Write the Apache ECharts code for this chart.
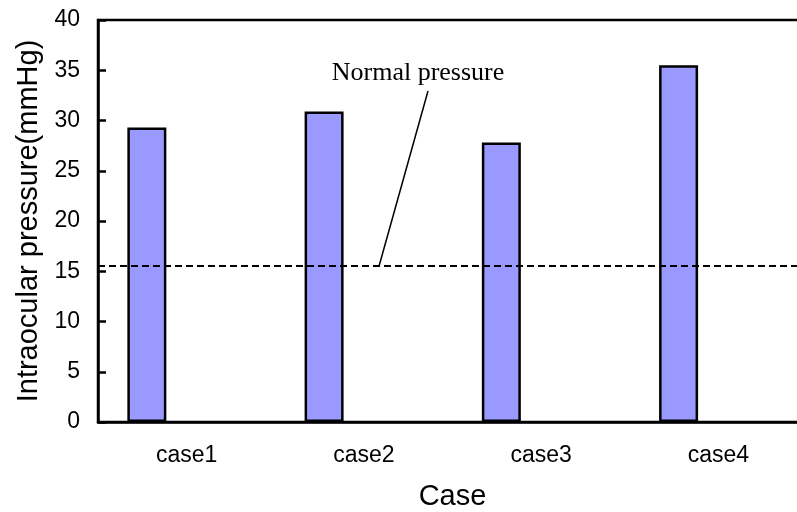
<!DOCTYPE html>
<html>
<head>
<meta charset="utf-8">
<script src="https://cdn.jsdelivr.net/npm/echarts@6/dist/echarts.min.js"></script>
<style>
  html, body { margin: 0; padding: 0; background: #ffffff; }
  #chart { width: 797px; height: 512px; }
</style>
</head>
<body>
<div id="chart"></div>
<script>
// Intraocular pressure per case, with the normal-pressure reference level
const categories = ['case1', 'case2', 'case3', 'case4'];
const pressures = [29.3, 30.9, 27.8, 35.5];
const spareSeriesA = [null, null, null, null];
const spareSeriesB = [null, null, null, null];
const normalPressure = 15.5;
const annotationText = 'Normal pressure';

const sans = '"Liberation Sans", Arial, sans-serif';
const serif = '"Liberation Serif", "Times New Roman", serif';

const chart = echarts.init(document.getElementById('chart'), null, { renderer: 'canvas' });

const barStyle = { color: '#9999ff', borderColor: '#000000', borderWidth: 2.5 };

chart.setOption({
  animation: false,
  backgroundColor: '#ffffff',
  grid: {
    left: 98, top: 20, width: 709, height: 402,
    containLabel: false,
    outerBoundsMode: 'none',
    show: true, borderColor: '#000000', borderWidth: 2.5, backgroundColor: 'transparent'
  },
  xAxis: {
    type: 'category',
    data: categories,
    axisLine: { lineStyle: { color: '#000000', width: 2.5 } },
    axisTick: { inside: true, length: 8, lineStyle: { color: '#000000', width: 2.5 } },
    axisLabel: { color: '#000000', fontFamily: sans, fontSize: 23, margin: 22 },
    name: 'Case',
    nameLocation: 'middle',
    nameGap: 60,
    nameTextStyle: { color: '#000000', fontFamily: sans, fontSize: 29 }
  },
  yAxis: {
    type: 'value',
    min: 0, max: 40, interval: 5,
    axisLine: { show: true, lineStyle: { color: '#000000', width: 2.5 } },
    axisTick: { show: true, inside: true, length: 8, lineStyle: { color: '#000000', width: 2.5 } },
    splitLine: { show: false },
    axisLabel: { color: '#000000', fontFamily: sans, fontSize: 23, margin: 18 },
    name: 'Intraocular pressure(mmHg)',
    nameLocation: 'middle',
    nameGap: 55,
    nameTextStyle: { color: '#000000', fontFamily: sans, fontSize: 29 }
  },
  series: [
    {
      type: 'bar',
      data: pressures,
      barWidth: 39,
      barGap: '2%',
      itemStyle: barStyle,
      markLine: {
        silent: true,
        symbol: ['none', 'none'],
        label: { show: false },
        lineStyle: { color: '#000000', width: 1.8, type: [7, 4] },
        data: [{ yAxis: normalPressure }]
      }
    },
    { type: 'bar', data: spareSeriesA, barWidth: 39, barGap: '2%', itemStyle: barStyle },
    { type: 'bar', data: spareSeriesB, barWidth: 39, barGap: '2%', itemStyle: barStyle }
  ]
});

// Callout: label above the plot with a leader line down to the reference level
const refY = chart.convertToPixel({ yAxisIndex: 0 }, normalPressure);
chart.setOption({
  graphic: [
    {
      type: 'text',
      x: 418, y: 73,
      style: {
        text: annotationText,
        font: '26px ' + serif,
        fill: '#000000',
        textAlign: 'center',
        textVerticalAlign: 'middle'
      }
    },
    {
      type: 'line',
      shape: { x1: 428, y1: 91, x2: 379, y2: refY },
      style: { stroke: '#000000', lineWidth: 1.5 }
    }
  ]
});
</script>
</body>
</html>
